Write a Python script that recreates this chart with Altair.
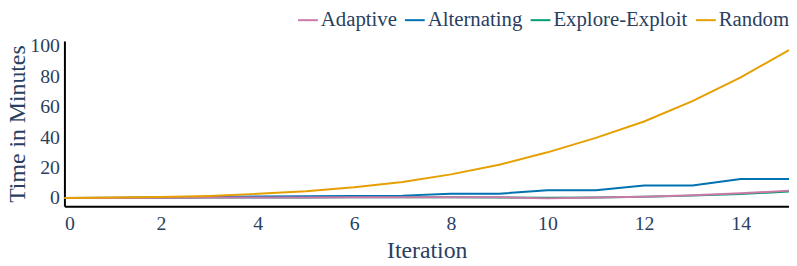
import altair as alt
import pandas as pd

iterations = list(range(16))
series_names = ["Adaptive", "Alternating", "Explore-Exploit", "Random"]
adaptive = [0, 0, 0.1, 0.2, 0.3, 0.3, 0.4, 0.5, 0.5, 0.4, -0.3, 0.2, 0.8, 1.8, 3.0, 4.8]
alternating = [0, 0.1, 0.3, 0.6, 0.9, 1.1, 1.2, 1.5, 2.7, 2.8, 5.0, 5.0, 8.2, 8.2, 12.5, 12.5]
explore_exploit = [0, 0, 0.1, 0.2, 0.2, 0.3, 0.4, 0.4, 0.4, 0.3, 0.1, 0.3, 0.7, 1.5, 2.6, 4.2]
random_vals = [0, 0.2, 0.6, 1.3, 2.7, 4.4, 7.0, 10.5, 15.5, 21.8, 30.0, 39.5, 50.3, 63.7, 79.4, 97.2]
colors = ["#CC79A7", "#0072B2", "#009E73", "#E69F00"]

rows = []
for name, vals in zip(series_names, [adaptive, alternating, explore_exploit, random_vals]):
    for it, v in zip(iterations, vals):
        rows.append({"Iteration": it, "Time": v, "Series": name})
df = pd.DataFrame(rows)

font = "Liberation Serif"
txt = "#2a3f5f"

base = alt.Chart(df).mark_line(strokeWidth=2).encode(
    x=alt.X("Iteration:Q", scale=alt.Scale(domain=[0, 15], nice=False),
            axis=alt.Axis(title="Iteration", values=[0, 2, 4, 6, 8, 10, 12, 14],
                          grid=False, ticks=False, labelPadding=7, titlePadding=6,
                          labelFont=font, titleFont=font, labelFontSize=20, titleFontSize=24,
                          labelColor=txt, titleColor=txt, titleFontWeight="normal",
                          domainColor="black", domainWidth=2)),
    y=alt.Y("Time:Q", scale=alt.Scale(domain=[-5.5, 103.3], nice=False, zero=False),
            axis=alt.Axis(title="Time in Minutes", values=[0, 20, 40, 60, 80, 100],
                          grid=False, ticks=False, labelPadding=5, titlePadding=0,
                          labelFont=font, titleFont=font, labelFontSize=20, titleFontSize=24,
                          labelColor=txt, titleColor=txt, titleFontWeight="normal",
                          domainColor="black", domainWidth=2)),
    color=alt.Color("Series:N", scale=alt.Scale(domain=series_names, range=colors),
                    legend=alt.Legend(title=None, orient="none", legendX=235, legendY=-32,
                                      direction="horizontal", symbolType="stroke",
                                      symbolSize=400, symbolStrokeWidth=2,
                                      labelFontSize=21, labelOffset=2, columnPadding=4,
                                      padding=0, labelFont=font, labelColor=txt)),
)

draw_order = ["Explore-Exploit", "Alternating", "Adaptive", "Random"]
layers = [base.transform_filter(alt.datum.Series == s) for s in draw_order]

chart = alt.layer(*layers).properties(
    width=732, height=167,
    autosize=alt.AutoSizeParams(type="none"),
    padding={"left": 57, "top": 32, "right": 0, "bottom": 55},
).configure(font=font).configure_view(stroke=None)

chart.save("out.html", embed_options={"renderer": "svg", "actions": False})
